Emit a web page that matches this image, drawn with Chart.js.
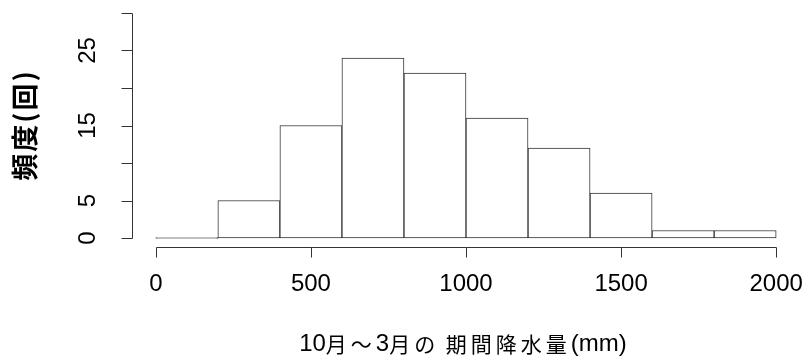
<!DOCTYPE html>
<html>
<head>
<meta charset="utf-8">
<script src="https://cdn.jsdelivr.net/npm/chart.js@4"></script>
<style>
  html, body { margin: 0; padding: 0; background: #fff; }
  #wrap { width: 805px; height: 358px; }
</style>
</head>
<body>
<div id="wrap"><canvas id="histChart" width="805" height="358"></canvas></div>
<script>
// histogram data (bin centres in mm, counts)
var binCentres = [100, 300, 500, 700, 900, 1100, 1300, 1500, 1700, 1900];
var counts = [0, 5, 15, 24, 22, 16, 12, 6, 1, 1];
var xTicks = [0, 500, 1000, 1500, 2000];
var yTicks = [0, 5, 10, 15, 20, 25, 30];
var yTickLabels = ['0', '5', '', '15', '', '25', ''];
var xTitle = '10月～3月の 期間降水量(mm)';
var yTitle = '頻度(回)';

var lineColor = '#333333';
var numFont = '24px "Liberation Sans", Arial, sans-serif';
var cjkFont = '21px "Noto Sans CJK JP", sans-serif';

// latin runs tight, japanese runs spaced out like the R device font
function drawMixed(ctx, text, cx, cy) {
    var runs = text.match(/[\x00-\x7f]+|[^\x00-\x7f]+/g);
    var widths = runs.map(function (r) {
        var latin = /^[\x00-\x7f]/.test(r);
        ctx.font = latin ? numFont : cjkFont;
        ctx.letterSpacing = latin ? '0px' : '4px';
        return ctx.measureText(r).width;
    });
    var total = widths.reduce(function (a, b) { return a + b; }, 0);
    var x = cx - total / 2;
    ctx.textAlign = 'left';
    runs.forEach(function (r, i) {
        var latin = /^[\x00-\x7f]/.test(r);
        ctx.font = latin ? numFont : cjkFont;
        ctx.letterSpacing = latin ? '0px' : '4px';
        ctx.fillText(r, x, cy);
        x += widths[i];
    });
    ctx.letterSpacing = '0px';
    ctx.textAlign = 'center';
}

// R style detached axes
var rAxes = {
    id: 'rAxes',
    afterDraw: function (chart) {
        var ctx = chart.ctx;
        var xs = chart.scales.x;
        var ys = chart.scales.y;
        var area = chart.chartArea;
        ctx.save();
        ctx.strokeStyle = lineColor;
        ctx.lineWidth = 1;
        ctx.fillStyle = '#000';

        // x axis
        var ax = Math.round(area.bottom) + 0.5;
        var x0 = Math.round(xs.getPixelForValue(xTicks[0])) + 0.5;
        var x1 = Math.round(xs.getPixelForValue(xTicks[xTicks.length - 1])) + 0.5;
        ctx.beginPath();
        ctx.moveTo(x0, ax);
        ctx.lineTo(x1, ax);
        xTicks.forEach(function (v) {
            var px = Math.round(xs.getPixelForValue(v)) + 0.5;
            ctx.moveTo(px, ax);
            ctx.lineTo(px, ax + 10);
        });
        ctx.stroke();
        ctx.font = numFont;
        ctx.textAlign = 'center';
        ctx.textBaseline = 'middle';
        xTicks.forEach(function (v) {
            ctx.fillText(String(v), xs.getPixelForValue(v), 284);
        });

        // y axis
        var ay = Math.round(area.left) + 1.5;
        var y0 = Math.round(ys.getPixelForValue(yTicks[0])) + 0.5;
        var y1 = Math.round(ys.getPixelForValue(yTicks[yTicks.length - 1])) + 0.5;
        ctx.beginPath();
        ctx.moveTo(ay, y0);
        ctx.lineTo(ay, y1);
        yTicks.forEach(function (v) {
            var py = Math.round(ys.getPixelForValue(v)) + 0.5;
            ctx.moveTo(ay, py);
            ctx.lineTo(ay - 11, py);
        });
        ctx.stroke();
        yTicks.forEach(function (v, i) {
            if (!yTickLabels[i]) return;
            ctx.save();
            ctx.translate(88, ys.getPixelForValue(v));
            ctx.rotate(-Math.PI / 2);
            ctx.fillText(yTickLabels[i], 0, 0);
            ctx.restore();
        });

        // titles
        drawMixed(ctx, xTitle, 463, 344);
        ctx.save();
        ctx.translate(25, 125);
        ctx.rotate(-Math.PI / 2);
        ctx.font = 'bold 27px "Noto Sans CJK JP", sans-serif';
        ctx.letterSpacing = '2px';
        ctx.fillText(yTitle, 0, 0);
        ctx.restore();
        ctx.restore();
    }
};

var ctx = document.getElementById('histChart').getContext('2d');
var histChart = new Chart(ctx, {
    type: 'bar',
    data: {
        datasets: [{
            data: binCentres.map(function (c, i) { return { x: c, y: counts[i] }; }),
            backgroundColor: '#ffffff',
            borderColor: lineColor,
            borderWidth: 1,
            borderSkipped: false,
            minBarLength: 1,
            barPercentage: 1,
            categoryPercentage: 1
        }]
    },
    options: {
        responsive: false,
        animation: false,
        events: [],
        layout: {
            padding: { left: 131, right: 4, top: 4, bottom: 111 }
        },
        plugins: {
            legend: { display: false },
            tooltip: { enabled: false }
        },
        scales: {
            x: {
                type: 'linear',
                display: false,
                min: -80,
                max: 2080,
                offset: false
            },
            y: {
                display: false,
                min: -1.2,
                max: 31.2
            }
        }
    },
    plugins: [rAxes]
});
</script>
</body>
</html>
